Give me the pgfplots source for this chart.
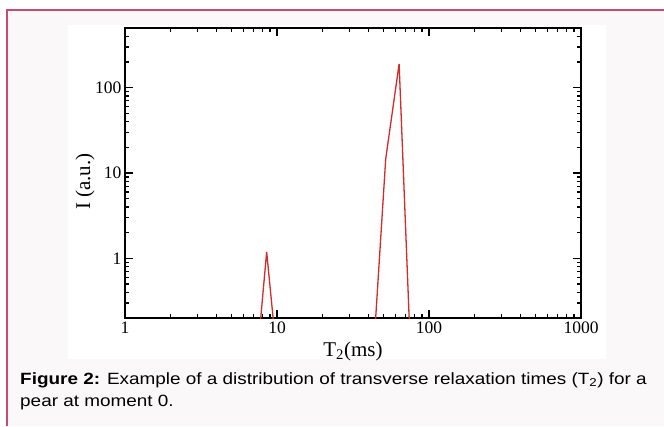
\documentclass[border=0pt]{standalone}
\usepackage{fontspec}
\setmainfont{Liberation Serif}
\newfontfamily\arial{Liberation Sans}
\usepackage{pgfplots}
\pgfplotsset{compat=1.18}
\definecolor{bordercol}{HTML}{C94A70}
\definecolor{bgcol}{HTML}{FBF8F9}
\definecolor{linered}{HTML}{D42A2A}
\begin{document}
\begin{tikzpicture}[x=1pt,y=1pt]
\useasboundingbox (0,0) rectangle (664,426);
\fill[white] (0,0) rectangle (664,426);
\fill[bgcol] (7,0) rectangle (664,416);
\draw[bordercol, line width=1.6pt] (7,0) -- (7,416) -- (664,416);
\fill[white] (68,67) rectangle (606,401);
\begin{axis}[
  at={(125pt,108pt)}, anchor=south west,
  scale only axis, width=456pt, height=290pt,
  xmode=log, ymode=log,
  xmin=1, xmax=1000, ymin=0.2, ymax=500,
  xtick={1,10,100,1000}, xticklabels={1,10,100,1000},
  ytick={1,10,100}, yticklabels={1,10,100},
  minor xtick={2,3,4,5,6,7,8,9,20,30,40,50,60,70,80,90,200,300,400,500,600,700,800,900},
  minor ytick={0.2,0.3,0.4,0.5,0.6,0.7,0.8,0.9,2,3,4,5,6,7,8,9,20,30,40,50,60,70,80,90,200,300,400,500},
  tick align=inside,
  major tick length=8pt, minor tick length=4.5pt,
  every tick/.style={black, line width=1.2pt},
  axis line style={black, line width=1.6pt},
  /pgf/number format/assume math mode=true,
  ticklabel style={font=\fontsize{17.5}{17.5}\selectfont},
  xlabel={T\textsubscript{2}(ms)},
  ylabel={I (a.u.)},
  xlabel style={font=\fontsize{21}{21}\selectfont, at={(axis description cs:0.5,0)}, anchor=base, yshift=-38pt},
  ylabel style={font=\fontsize{21}{21}\selectfont, at={(axis description cs:0,0.47)}, anchor=center, yshift=40pt},
]
\addplot[linered, line width=1.3pt] coordinates {(7.55,0.1)(8.55,1.19)(9.79,0.1)};
\addplot[linered, line width=1.3pt] coordinates {(43.5,0.1)(51.9,14.6)(63.6,190)(75.2,0.1)};
\end{axis}
\node[anchor=base west, inner sep=0pt, xscale=1.16, font=\arial\fontsize{16.3}{16.3}\selectfont] at (20,42) {\textbf{Figure 2:} Example of a distribution of transverse relaxation times (T\textsubscript{2}) for a};
\node[anchor=base west, inner sep=0pt, xscale=1.16, font=\arial\fontsize{16.3}{16.3}\selectfont] at (20,20) {pear at moment 0.};
\end{tikzpicture}
\end{document}
